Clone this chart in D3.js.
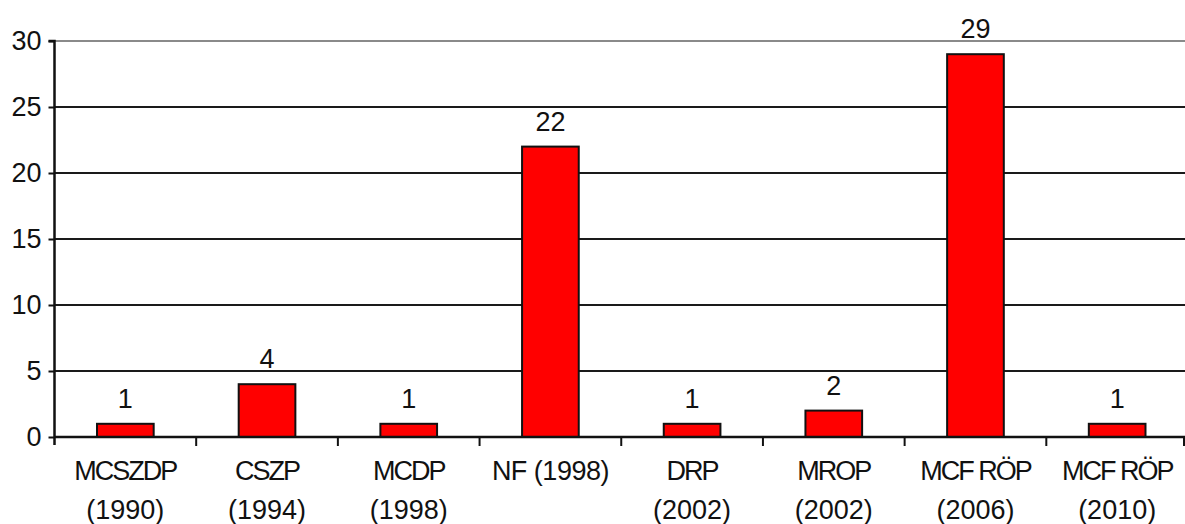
<!DOCTYPE html>
<html><head><meta charset="utf-8">
<script src="https://cdn.jsdelivr.net/npm/d3@7"></script>
<style>
html,body{margin:0;padding:0;background:#fff;}
svg{display:block;font-family:"Liberation Sans",Arial,sans-serif;}
</style></head>
<body>
<svg id="chart" width="1185" height="524"></svg>
<script>
const categoryLine1 = ["MCSZDP","CSZP","MCDP","NF (1998)","DRP","MROP","MCF RÖP","MCF RÖP"];
const categoryLine2 = ["(1990)","(1994)","(1998)","","(2002)","(2002)","(2006)","(2010)"];
const values = [1,4,1,22,1,2,29,1];
const yTicks = [0,5,10,15,20,25,30];

(function(){
const svg = d3.select("#chart");
const pLeft = 54.5, pRight = 1188, pTop = 41, pBottom = 437;
const ids = d3.range(values.length);
const x = d3.scaleBand().domain(ids).range([pLeft, pRight]).paddingInner(0.6).paddingOuter(0.3);
const xb = d3.scaleBand().domain(ids).range([pLeft, pRight]);
const y = d3.scaleLinear().domain([0,30]).range([pBottom, pTop]);

// gridlines
svg.append("g").selectAll("line").data(yTicks.filter(d=>d>0)).join("line")
  .attr("x1", pLeft).attr("x2", pRight)
  .attr("y1", d=>y(d)).attr("y2", d=>y(d))
  .attr("stroke", d=> d===30 ? "#8a8a8a" : "#1a1a1a")
  .attr("stroke-width", 2);

// y axis
const yAxis = d3.axisLeft(y).tickValues(yTicks).tickSize(6).tickPadding(7);
const gy = svg.append("g").attr("transform", `translate(${pLeft},0)`).call(yAxis);
gy.select(".domain").attr("stroke","#111").attr("stroke-width",2.5).attr("d", `M-6,${pTop}H0V${pBottom+8}`);
gy.selectAll(".tick line").attr("stroke","#111").attr("stroke-width",2);
gy.selectAll(".tick text").attr("font-size",27).attr("fill","#111")
  .attr("font-family",'"Liberation Sans",Arial,sans-serif');

// bars
svg.append("g").selectAll("rect").data(values).join("rect")
  .attr("x",(d,i)=>x(i)).attr("width",x.bandwidth())
  .attr("y",d=>y(d)).attr("height",d=>y(0)-y(d))
  .attr("fill","#ff0000").attr("stroke","#111").attr("stroke-width",2);

// x axis
const gx = svg.append("g").attr("transform",`translate(0,${pBottom})`);
gx.append("line").attr("x1",pLeft).attr("x2",pRight).attr("stroke","#111").attr("stroke-width",2.5);
gx.selectAll("line.tk").data(d3.range(1, values.length+1)).join("line").attr("class","tk")
  .attr("x1",i=> i<values.length ? xb(i) : 1184).attr("x2",i=> i<values.length ? xb(i) : 1184)
  .attr("y1",0).attr("y2",9).attr("stroke","#111").attr("stroke-width",2);

// category labels
const lab = svg.append("g").attr("font-size",27).attr("fill","#111").attr("text-anchor","middle");
lab.selectAll("text.l1").data(categoryLine1).join("text").attr("class","l1")
  .attr("x",(d,i)=>x(i)+x.bandwidth()/2).attr("y",480)
  .attr("letter-spacing",d=> /\d/.test(d) ? -0.5 : -2)
  .text(d=>d);
lab.selectAll("text.l2").data(categoryLine2).join("text").attr("class","l2")
  .attr("x",(d,i)=>x(i)+x.bandwidth()/2).attr("y",519)
  .text(d=>d);

// value labels
svg.append("g").attr("font-size",27).attr("fill","#111").attr("text-anchor","middle")
  .selectAll("text").data(values).join("text")
  .attr("x",(d,i)=>x(i)+x.bandwidth()/2).attr("y",d=>y(d)-16)
  .text(d=>d);
})();
</script>
</body></html>
